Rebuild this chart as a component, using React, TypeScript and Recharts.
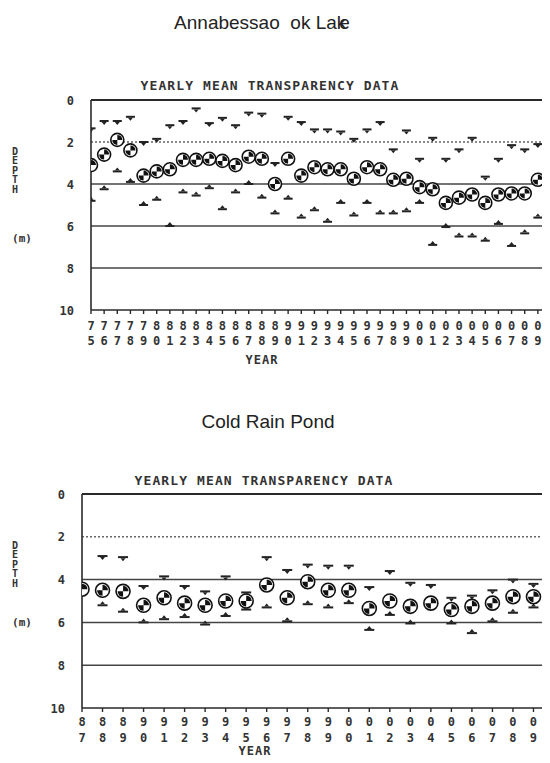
import React from "react";
import { ScatterChart, Scatter, XAxis, YAxis, ReferenceLine } from "recharts";

// Annabessacook Lake, 1975-2009 (depth in m, 0 at top)
const annaYears = [75, 76, 77, 78, 79, 80, 81, 82, 83, 84, 85, 86, 87, 88, 89, 90, 91, 92, 93, 94, 95, 96, 97, 98, 99, 100, 101, 102, 103, 104, 105, 106, 107, 108, 109];
const annaMin = [1.35, 1.0, 1.0, 0.8, 2.0, 1.85, 1.2, 1.0, 0.4, 1.1, 0.85, 1.2, 0.6, 0.65, 3.0, 0.8, 1.05, 1.4, 1.4, 1.5, 1.85, 1.4, 1.05, 2.35, 1.45, 2.8, 1.8, 2.8, 2.35, 1.8, 3.65, 2.8, 2.15, 2.35, 2.1];
const annaMean = [3.1, 2.6, 1.9, 2.4, 3.6, 3.4, 3.3, 2.85, 2.85, 2.8, 2.9, 3.1, 2.7, 2.8, 4.0, 2.8, 3.6, 3.2, 3.3, 3.3, 3.75, 3.2, 3.3, 3.8, 3.75, 4.15, 4.25, 4.9, 4.65, 4.5, 4.9, 4.5, 4.45, 4.45, 3.8];
const annaMax = [4.8, 4.25, 3.4, 3.9, 5.0, 4.75, 6.0, 4.4, 4.55, 4.2, 5.2, 4.4, 4.0, 4.65, 5.4, 4.7, 5.6, 5.25, 5.8, 4.9, 5.5, 4.9, 5.4, 5.4, 5.3, 4.9, 6.9, 6.05, 6.5, 6.5, 6.7, 5.9, 6.95, 6.35, 5.6];

// Cold Rain Pond, 1987-2009
const coldYears = [87, 88, 89, 90, 91, 92, 93, 94, 95, 96, 97, 98, 99, 100, 101, 102, 103, 104, 105, 106, 107, 108, 109];
const coldMin = [null, 2.9, 2.95, 4.3, 3.85, 4.3, 4.55, 3.85, 4.6, 2.95, 3.55, 3.3, 3.35, 3.35, 4.35, 3.6, 4.15, 4.25, 4.85, 4.75, 4.5, 4.0, 4.2];
const coldMean = [4.45, 4.5, 4.55, 5.2, 4.85, 5.1, 5.2, 5.0, 5.0, 4.25, 4.85, 4.1, 4.5, 4.5, 5.35, 5.0, 5.25, 5.1, 5.4, 5.25, 5.1, 4.8, 4.8];
const coldMax = [null, 5.2, 5.5, 6.0, 5.85, 5.75, 6.1, 5.7, 5.4, 5.3, 5.95, 5.15, 5.3, 5.1, 6.35, 5.65, 6.05, 5.3, 6.05, 6.5, 5.95, 5.55, 5.3];

const depthTicks = [0, 2, 4, 6, 8, 10];
const solidLines = [4, 6, 8];

const INK = "#2a2a2a";
const mono: React.CSSProperties = {
  fontFamily: "'DejaVu Sans Mono', monospace",
  fontWeight: "bold",
  fontSize: 12,
  color: "#333",
};

function points(years: number[], vals: (number | null)[]) {
  return years
    .map((x, i) => ({ x, y: vals[i] }))
    .filter((p) => p.y !== null);
}

function MeanMark(props: any, r: number) {
  const { cx, cy } = props;
  const q = r - 1.5;
  return (
    <g>
      <circle cx={cx} cy={cy} r={r} fill="#fff" stroke="#111" strokeWidth={1.6} />
      <path d={`M${cx},${cy} L${cx},${cy - q} A${q},${q} 0 0 1 ${cx + q},${cy} Z`} fill="#111" />
      <path d={`M${cx},${cy} L${cx},${cy + q} A${q},${q} 0 0 1 ${cx - q},${cy} Z`} fill="#111" />
    </g>
  );
}

function MinMark(props: any, w: number) {
  const { cx, cy } = props;
  return (
    <g fill="#222">
      <rect x={cx - w / 2} y={cy - 1} width={w} height={2} />
      <path d={`M${cx - 2.5},${cy + 1} L${cx + 2.5},${cy + 1} L${cx},${cy + 4} Z`} />
    </g>
  );
}

function MaxMark(props: any, w: number) {
  const { cx, cy } = props;
  return (
    <g fill="#222">
      <rect x={cx - w / 2} y={cy - 1} width={w} height={2} />
      <path d={`M${cx - 2.5},${cy - 1} L${cx + 2.5},${cy - 1} L${cx},${cy - 4} Z`} />
    </g>
  );
}

function Txt({ x, y, children, style }: any) {
  return (
    <div
      style={{
        position: "absolute",
        left: x,
        top: y,
        transform: "translate(-50%, -50%)",
        whiteSpace: "pre",
        lineHeight: 1,
        ...style,
      }}
    >
      {children}
    </div>
  );
}

function Panel(p: {
  top: number;
  height: number;
  width: number;
  plotTop: number;
  plotBottom: number;
  plotLeft: number;
  domain: [number, number];
  years: number[];
  mins: (number | null)[];
  means: number[];
  maxs: (number | null)[];
  r: number;
  barW: number;
  labelRight: number;
  tensDy: number;
  unitsDy: number;
}) {
  const localBottom = p.plotBottom - p.top;
  const YearTick = (props: any) => {
    const v = props.payload.value % 100;
    return (
      <g fontFamily="'DejaVu Sans Mono', monospace" fontWeight="bold" fontSize={12} fill="#333" textAnchor="middle">
        <text x={props.x} y={localBottom + p.tensDy}>{Math.floor(v / 10)}</text>
        <text x={props.x} y={localBottom + p.unitsDy}>{v % 10}</text>
      </g>
    );
  };
  const DepthTick = (props: any) => (
    <text
      x={p.labelRight}
      y={props.y + 4.5}
      textAnchor="end"
      fontFamily="'DejaVu Sans Mono', monospace"
      fontWeight="bold"
      fontSize={12}
      fill="#333"
    >
      {props.payload.value}
    </text>
  );
  return (
    <div style={{ position: "absolute", left: 0, top: p.top }}>
      <ScatterChart
        width={p.width}
        height={p.height}
        margin={{ top: p.plotTop - p.top, right: 0, bottom: 0, left: 0 }}
      >
        <XAxis
          type="number"
          dataKey="x"
          domain={p.domain}
          ticks={p.years}
          interval={0}
          height={p.top + p.height - p.plotBottom}
          tickSize={4}
          tickLine={{ stroke: INK, strokeWidth: 1.4 }}
          axisLine={{ stroke: INK, strokeWidth: 1.6 }}
          tick={YearTick}
          allowDataOverflow
        />
        <YAxis
          type="number"
          dataKey="y"
          domain={[0, 10]}
          ticks={depthTicks}
          reversed
          width={p.plotLeft}
          tickLine={false}
          axisLine={{ stroke: INK, strokeWidth: 1.6 }}
          tick={DepthTick}
          allowDataOverflow
        />
        <ReferenceLine y={0} stroke={INK} strokeWidth={2.2} />
        <ReferenceLine y={2} stroke="#666" strokeWidth={1.4} strokeDasharray="2 2" />
        {solidLines.map((v) => (
          <ReferenceLine key={v} y={v} stroke="#444" strokeWidth={1.5} />
        ))}
        <Scatter
          data={points(p.years, p.mins)}
          isAnimationActive={false}
          shape={(s: any) => MinMark(s, p.barW)}
        />
        <Scatter
          data={points(p.years, p.maxs)}
          isAnimationActive={false}
          shape={(s: any) => MaxMark(s, p.barW)}
        />
        <Scatter
          data={points(p.years, p.means)}
          isAnimationActive={false}
          shape={(s: any) => MeanMark(s, p.r)}
        />
      </ScatterChart>
    </div>
  );
}

export default function App() {
  const title: React.CSSProperties = {
    fontFamily: "'Liberation Sans', Arial, sans-serif",
    fontSize: 19,
    color: "#222",
  };
  const depth: React.CSSProperties = {
    ...mono,
    fontSize: 10,
    lineHeight: "9.4px",
    textAlign: "center",
  };
  return (
    <div
      style={{
        position: "relative",
        width: 550,
        height: 763,
        margin: -8,
        overflow: "hidden",
        background: "#fff",
      }}
    >
      <Txt x={262} y={22} style={title}>
        {"Annabessao  ok La"}
        <span style={{ letterSpacing: -7 }}>k</span>
        {"e"}
      </Txt>
      <Txt x={270} y={85} style={{ ...mono, fontSize: 13, letterSpacing: 1.1 }}>
        YEARLY MEAN TRANSPARENCY DATA
      </Txt>
      <Panel
        top={60}
        height={300}
        width={551}
        plotTop={100}
        plotBottom={310}
        plotLeft={91}
        domain={[75, 110]}
        years={annaYears}
        mins={annaMin}
        means={annaMean}
        maxs={annaMax}
        r={6.5}
        barW={9}
        labelRight={74}
        tensDy={20}
        unitsDy={35}
      />
      <Txt x={15} y={171} style={depth}>
        {"D\nE\nP\nT\nH"}
      </Txt>
      <Txt x={22} y={238} style={{ ...mono, fontSize: 11 }}>(m)</Txt>
      <Txt x={262} y={360} style={{ ...mono, letterSpacing: 1 }}>YEAR</Txt>

      <Txt x={268} y={421} style={title}>Cold Rain Pond</Txt>
      <Txt x={264} y={480} style={{ ...mono, fontSize: 13, letterSpacing: 1.1 }}>
        YEARLY MEAN TRANSPARENCY DATA
      </Txt>
      <Panel
        top={460}
        height={290}
        width={554}
        plotTop={494}
        plotBottom={708}
        plotLeft={82}
        domain={[87, 110]}
        years={coldYears}
        mins={coldMin}
        means={coldMean}
        maxs={coldMax}
        r={7}
        barW={10}
        labelRight={65}
        tensDy={18}
        unitsDy={34}
      />
      <Txt x={15} y={565} style={depth}>
        {"D\nE\nP\nT\nH"}
      </Txt>
      <Txt x={22} y={622} style={{ ...mono, fontSize: 11 }}>(m)</Txt>
      <Txt x={255} y={751} style={{ ...mono, letterSpacing: 1 }}>YEAR</Txt>
    </div>
  );
}
